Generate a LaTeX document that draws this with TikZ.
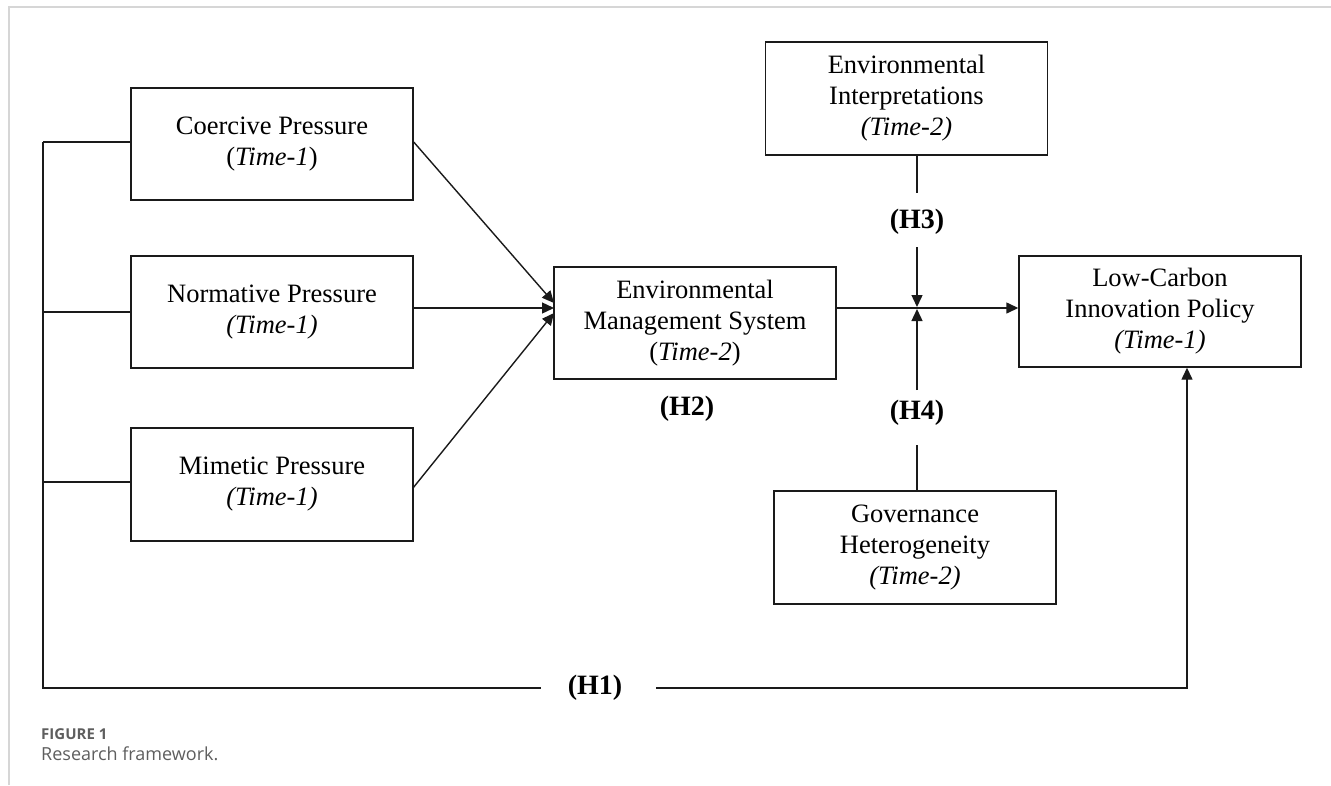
\documentclass[tikz,border=0pt]{standalone}
\usepackage{fontspec}
\setmainfont{Liberation Serif}
\newfontfamily\capfont{Open Sans}
\usetikzlibrary{arrows.meta}
\definecolor{framegray}{HTML}{D6D6D6}
\definecolor{capgray}{HTML}{5E5E5E}
\definecolor{linegray}{HTML}{1A1A1A}
\tikzset{
  box/.style={draw=linegray, line width=1.4pt, minimum width=282pt, inner sep=0pt, align=center,
    font=\fontsize{26.5}{31}\selectfont},
  hlab/.style={inner sep=0pt, font=\fontsize{28}{32}\selectfont\bfseries},
  ln/.style={draw=linegray, line width=1.4pt},
  arr/.style={ln, -{Triangle[length=12pt,width=11pt]}},
}
\begin{document}
\begin{tikzpicture}[x=1pt,y=-1pt]
\useasboundingbox (0,0) rectangle (1331,785);
\draw[framegray, line width=2pt] (9,785) -- (9,7) -- (1331,7);

% boxes
\node[box, minimum height=112pt] (coe) at (272,144) {Coercive Pressure\\(\textit{Time-1})};
\node[box, minimum height=112pt] (nor) at (272,312) {Normative Pressure\\\textit{(Time-1)}};
\node[box, minimum height=113pt] (mim) at (272,484.5) {Mimetic Pressure\\\textit{(Time-1)}};
\node[box, minimum height=112pt] (ems) at (695,323) {Environmental\\Management System\\(\textit{Time-2})};
\node[box, minimum height=113pt] (ei) at (906.5,98.5) {Environmental\\Interpretations\\\textit{(Time-2)}};
\node[box, minimum height=111pt] (lcip) at (1160,311.5) {Low-Carbon\\Innovation Policy\\\textit{(Time-1)}};
\node[box, minimum height=113pt] (gh) at (915,547.5) {Governance\\Heterogeneity\\\textit{(Time-2)}};

% labels
\node[hlab] (h2) at (687,409) {(H2)};
\node[hlab] (h3) at (917,222) {(H3)};
\node[hlab] (h4) at (917,413) {(H4)};
\node[hlab] (h1) at (595,688) {(H1)};

% coordinates
\coordinate (ltop) at (43,142);
\coordinate (lnor) at (43,312);
\coordinate (lmim) at (43,482);
\coordinate (lbot) at (43,688);
\coordinate (h1l) at (541,688);
\coordinate (h1r) at (656,688);
\coordinate (rb) at (1187,688);
\coordinate (ein1) at (554,303);
\coordinate (ein2) at (554,308);
\coordinate (ein3) at (554,313);
\coordinate (rmim) at (413,488);
\coordinate (h3top) at (917,193);
\coordinate (h3bot) at (917,247);
\coordinate (jdown) at (917,307);
\coordinate (jup) at (917,309);
\coordinate (h4top) at (917,390);
\coordinate (h4bot) at (917,445);

% left bus
\draw[ln] (ltop) -- (lbot) -- (h1l);
\draw[ln] (ltop) -- (ltop -| coe.west);
\draw[ln] (lnor) -- (lnor -| nor.west);
\draw[ln] (lmim) -- (lmim -| mim.west);
\draw[arr] (h1r) -- (rb) -- (rb |- lcip.south);

% pressures to EMS
\draw[arr] (ltop -| coe.east) -- (ein1);
\draw[arr] (ein2 -| nor.east) -- (ein2);
\draw[arr] (rmim) -- (ein3);

% EMS to LCIP
\draw[arr] (ein2 -| ems.east) -- (ein2 -| lcip.west);

% moderators
\draw[ln] (ei.south -| h3top) -- (h3top);
\draw[arr] (h3bot) -- (jdown);
\draw[arr] (h4top) -- (jup);
\draw[ln] (gh.north -| h4bot) -- (h4bot);

% caption
\node[anchor=west, inner sep=0pt, text=capgray, font=\capfont\fontsize{15}{18}\selectfont\bfseries] (figlab) at (41,734) {FIGURE 1};
\node[anchor=west, inner sep=0pt, text=capgray, font=\capfont\fontsize{18}{21}\selectfont] (figcap) at (41,754) {Research framework.};
\end{tikzpicture}
\end{document}
